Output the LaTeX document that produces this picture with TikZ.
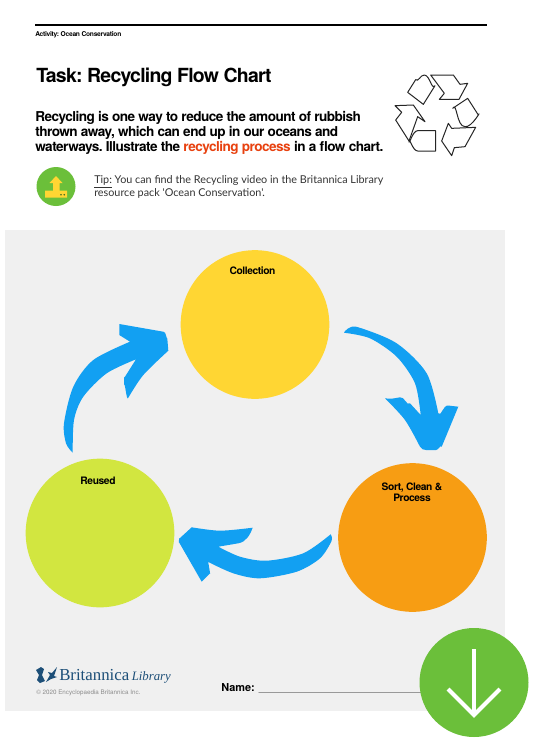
\documentclass[tikz,border=0pt]{standalone}
\usepackage{fontspec}
\setmainfont{TeX Gyre Heros}
\newfontfamily\headfont[LetterSpace=-4]{TeX Gyre Heros}
\newfontfamily\tipfont{Lato}
\newfontfamily\logofont{Liberation Serif}
\usepackage{tikz}
\definecolor{pagegrey}{HTML}{F0F0F0}
\definecolor{flowblue}{HTML}{12A0F2}
\definecolor{collectyellow}{HTML}{FFD633}
\definecolor{sortorange}{HTML}{F79D13}
\definecolor{reuselime}{HTML}{D2E640}
\definecolor{tipgreen}{HTML}{6BBF3A}
\definecolor{logoblue}{HTML}{1D4F78}
\definecolor{processred}{HTML}{E8410F}
\tikzset{
  stagecircle/.style={circle,minimum size=111.5pt,inner sep=0pt},
  stagelabel/.style={font=\headfont\bfseries\fontsize{7.7}{8.6}\selectfont,align=center,inner sep=0pt},
  bodyline/.style={anchor=west,inner sep=0pt,font=\headfont\bfseries\fontsize{10.2}{12}\selectfont},
  recyclepiece/.style={draw=black!85,fill=white,line width=.75pt,line join=round},
  tipline/.style={anchor=west,inner sep=0pt,font=\tipfont\fontsize{8.1}{10}\selectfont,black!80},
}
\begin{document}
\frenchspacing
\begin{tikzpicture}[x=.75pt,y=-.75pt,line cap=round,line join=round]
\path[use as bounding box,fill=white] (0,0) rectangle (540,747);
% header
\draw[line width=1.4pt,line cap=butt] (35,25)--(487,25);
\node[anchor=west,inner sep=0pt,font=\headfont\bfseries\fontsize{5}{6}\selectfont] (activity) at (35,34.5) {Activity: Ocean Conservation};
\node[anchor=west,inner sep=0pt,font=\headfont\bfseries\fontsize{14.6}{16}\selectfont] (title) at (36,77.5) {Task: Recycling Flow Chart};
\node[bodyline] (bodya) at (35,118) {Recycling is one way to reduce the amount of rubbish};
\node[bodyline] (bodyb) at (35,133) {thrown away, which can end up in our oceans and};
\node[bodyline] (bodyc) at (35,147.5) {waterways. Illustrate the \textcolor{processred}{recycling process} in a flow chart.};
% recycling sign
\begin{scope}[shift={(385,65)},x=.25pt,y=-.25pt]
\draw[recyclepiece] (68,82)--(92,44) to[out=-50,in=175] (118,30) to[out=-5,in=-130] (150,62)--(115,118)--cycle;
\draw[recyclepiece] (137,30)--(205,30)--(225,58)--(248,55)--(222,103)--(163,103)--(178,85)--cycle;
\draw[recyclepiece] (203,130)--(248,100)--(280,150) to[out=60,in=-10] (240,185) to[out=180,in=60] cycle;
\draw[recyclepiece] (190,175)--(200,190)--(272,187)--(240,245)--(208,248)--(200,272)--(170,228)--cycle;
\draw[recyclepiece] (30,122)--(85,120)--(120,170)--(98,155)--(72,228)--(32,165)--(50,142)--cycle;
\draw[recyclepiece] (152,197)--(152,258)--(98,258) to[out=180,in=90] (72,228) to[out=-90,in=180] (98,197)--cycle;
\end{scope}
% tip
\fill[tipgreen] (56,186.5) circle[radius=19.5];
\fill[collectyellow] (56,176)--(62.5,183)--(59.5,183)--(59.5,190.5)--(67,190.5)--(67,197.5)--(45,197.5)--(45,190.5)--(53,190.5)--(53,183)--(49.5,183)--cycle;
\fill[black!45!tipgreen] (61,194.7) circle[radius=.9] (64.3,194.7) circle[radius=.9];
\node[tipline] (tipa) at (94,181.5) {\underline{Tip:} You can find the Recycling video in the Britannica Library};
\node[tipline] (tipb) at (94,193.5) {resource pack 'Ocean Conservation'.};
% page
\fill[pagegrey] (5,230) rectangle (505,711);
\node[stagecircle,fill=collectyellow] (collection) at (255,324.5) {};
\node[stagecircle,fill=sortorange] (sort) at (412.5,537.5) {};
\node[stagecircle,fill=reuselime] (reused) at (100,533) {};
\node[stagelabel] (collectionlabel) at (252.5,271) {Collection};
\node[stagelabel] (sortlabel) at (412,492) {Sort, Clean \&\\Process};
\node[stagelabel] (reusedlabel) at (98,481) {Reused};
% flow arrows
\fill[flowblue] plot[smooth] coordinates {(344,332.7) (348,328.5) (358.3,327.3) (396.7,343.3) (426.7,373.3) (438.3,413.3)}
  to[out=-60,in=175] (448,405.5) -- (458.3,406.7) -- (441.7,446.7) to[out=125,in=0] (436,450) -- (426,450) to[out=180,in=-60] (420,446.7)
  -- plot[smooth] coordinates {(420,446.7) (405,420) (385,398.3)}
  to[out=-10,in=190] (400,397.3) to[out=15,in=-135] (410,403.3) -- (420.7,415)
  -- plot[smooth] coordinates {(420.7,415) (415,383.3) (396.7,356.7) (370,338.3) (344,332.7)} -- cycle;
\fill[flowblue] plot[smooth] coordinates {(330.7,534.3) (303.3,553.3) (266.7,560.7) (240,556.7) (218.3,546.7)}
  -- (238.3,543.3) .. controls (246,542) and (250,535) .. (252.7,527.7) -- plot[smooth] coordinates {(252.7,527.7) (220,530.7) (191.7,527.3)}
  -- (180,538) to[out=135,in=-110] (179.3,542.7) -- (201.7,581.7) -- (210,573.3) to[out=-80,in=90] (207.7,561.7)
  -- plot[smooth] coordinates {(207.7,561.7) (233.3,573.3) (260,578.3) (296.7,571.7) (320,558.3) (331.5,541) (330.7,534.3)} -- cycle;
\fill[flowblue] plot[smooth] coordinates {(72.7,452.7) (66,443.3) (64,423.3) (73.3,386.7) (93.3,360) (130,341.7)}
  -- (119.3,335) -- (119.3,324) -- (163.3,331.7) to[out=20,in=-100] (167.3,338.3) -- (168.3,350.7)
  -- plot[smooth] coordinates {(168.3,350.7) (143.3,375) (128.3,397.7)}
  to[out=-110,in=80] (124,385) to[out=-80,in=120] (125,376.7) -- (136,359.3)
  -- plot[smooth] coordinates {(136,359.3) (106.7,373.3) (83.3,396.7) (74,420) (72.7,452.7)} -- cycle;
% footer
\fill[logoblue] (36,670)--(41,667)--(44,669)--(42,675)--(45,681)--(40,683)--(37,680)--(39,675)--cycle;
\fill[logoblue] (46,682)--(50,675)--(48,672)--(52,673)--(57,667)--(54,676)--(57,677)--(51,679)--cycle;
\node[anchor=west,inner sep=0pt,text=logoblue,font=\logofont\fontsize{12.6}{16}\selectfont] (britannica) at (59,675) {Britannica};
\node[anchor=west,inner sep=0pt,text=logoblue,font=\logofont\itshape\fontsize{9.6}{13}\selectfont] (library) at (131.5,677) {Library};
\node[anchor=west,inner sep=0pt,text=black!45,font=\fontsize{4.7}{6}\selectfont] (copyright) at (36,692.5) {\textcopyright{} 2020 Encyclopaedia Britannica Inc.};
\node[anchor=west,inner sep=0pt,font=\bfseries\fontsize{8.2}{10}\selectfont] (name) at (221,688) {Name:};
\coordinate (nameend) at (425,692.5);
\draw[black!40,line width=.8pt] (259,692.5)--(nameend);
% download badge
\fill[tipgreen] (474,682.5) circle[radius=54.5];
\coordinate (arrowtop) at (474,649);
\coordinate (arrowtip) at (474,715);
\draw[white,line width=3pt,line cap=butt] (arrowtop)--(arrowtip);
\draw[white,line width=3pt,line cap=butt,line join=miter] (448,689)--(arrowtip)--(500,689);
\end{tikzpicture}
\end{document}
